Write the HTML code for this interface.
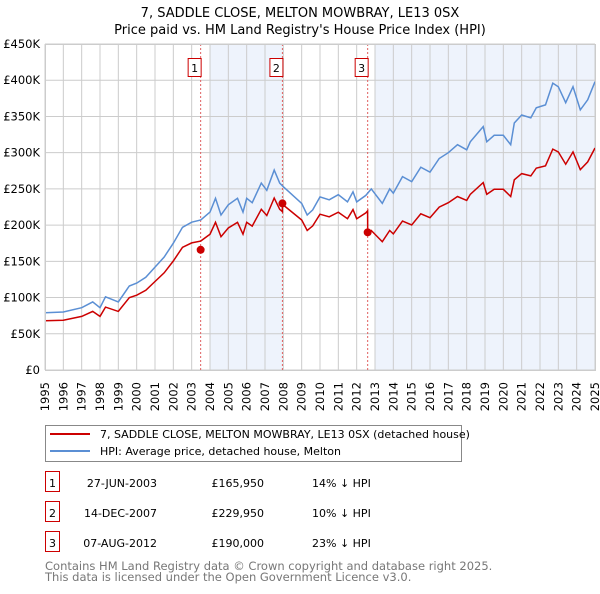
<!DOCTYPE html>
<html><head><meta charset="utf-8"><style>
body{margin:0;background:#fff;font-family:"DejaVu Sans","Liberation Sans",sans-serif;}
svg text{font-family:"DejaVu Sans","Liberation Sans",sans-serif;}
</style></head><body>
<svg id="c" width="600" height="590" xmlns="http://www.w3.org/2000/svg">
<text x="300" y="17" text-anchor="middle" font-size="13">7, SADDLE CLOSE, MELTON MOWBRAY, LE13 0SX</text>
<text x="300" y="34" text-anchor="middle" font-size="13">Price paid vs. HM Land Registry's House Price Index (HPI)</text>
<g id="plot"></g>
<g>
<rect x="45.5" y="425.5" width="416" height="36" fill="#fff" stroke="#888"/>
<line x1="50" y1="434" x2="90" y2="434" stroke="#cc0000" stroke-width="2"/>
<text x="100" y="438" font-size="11">7, SADDLE CLOSE, MELTON MOWBRAY, LE13 0SX (detached house)</text>
<line x1="50" y1="451" x2="90" y2="451" stroke="#5b8fd4" stroke-width="2"/>
<text x="100" y="455" font-size="11">HPI: Average price, detached house, Melton</text>
</g>
<g id="table" font-size="11"></g>
<text x="45" y="570" font-size="11.5" fill="#777">Contains HM Land Registry data © Crown copyright and database right 2025.</text>
<text x="45" y="581" font-size="11.5" fill="#777">This data is licensed under the Open Government Licence v3.0.</text>
</svg>
<script>
const hpiDates=[1995.0,1996.0,1997.0,1997.6,1998.0,1998.3,1999.0,1999.6,2000.0,2000.5,2001.0,2001.5,2002.0,2002.5,2003.0,2003.5,2004.0,2004.3,2004.6,2005.0,2005.5,2005.8,2006.0,2006.3,2006.8,2007.1,2007.5,2007.8,2008.0,2009.0,2009.3,2009.6,2010.0,2010.5,2011.0,2011.5,2011.8,2012.0,2012.5,2012.8,2013.4,2013.8,2014.0,2014.5,2015.0,2015.5,2016.0,2016.5,2017.0,2017.5,2018.0,2018.2,2018.9,2019.1,2019.5,2020.0,2020.4,2020.6,2021.0,2021.5,2021.8,2022.3,2022.7,2023.0,2023.4,2023.8,2024.2,2024.6,2025.0];
const hpiValues=[79,80,86,94,86,101,94,116,120,128,142,156,175,197,204,207,218,237,214,228,237,218,237,231,258,248,276,258,253,230,214,221,239,235,242,232,246,232,241,250,230,250,244,267,260,280,273,292,300,311,304,315,336,315,324,324,311,341,352,348,362,366,396,391,369,391,359,373,398];
const saleDates=[2003.49,2007.95,2012.6];
const salePrices=[165.95,229.95,190.0];
const salePctBelow=[14,10,23];
const saleLabels=["1","2","3"];
const saleDateText=["27-JUN-2003","14-DEC-2007","07-AUG-2012"];
const salePriceText=["£165,950","£229,950","£190,000"];
const saleHpiText=["14% ↓ HPI","10% ↓ HPI","23% ↓ HPI"];
const yTicks=[0,50,100,150,200,250,300,350,400,450];
const xTicks=[1995,1996,1997,1998,1999,2000,2001,2002,2003,2004,2005,2006,2007,2008,2009,2010,2011,2012,2013,2014,2015,2016,2017,2018,2019,2020,2021,2022,2023,2024,2025];

const X0=45,X1=595,Y0=370,Y1=44;
const xs=d=>X0+(d-1995)/30*(X1-X0);
const ys=v=>Y0-v/450*(Y0-Y1);
const NS="http://www.w3.org/2000/svg";
const plot=document.getElementById('plot');
function mk(tag,attrs,parent){const e=document.createElementNS(NS,tag);for(const k in attrs)e.setAttribute(k,attrs[k]);(parent||plot).appendChild(e);return e;}
function hpiAt(d){for(let i=1;i<hpiDates.length;i++){if(d<=hpiDates[i]){const t=(d-hpiDates[i-1])/(hpiDates[i]-hpiDates[i-1]);return hpiValues[i-1]+t*(hpiValues[i]-hpiValues[i-1]);}}return hpiValues[hpiValues.length-1];}

let r=mk('rect',{x:xs(2004),y:Y1,width:xs(saleDates[1])-xs(2004),height:Y0-Y1,fill:'#eef3fc'});


r=mk('rect',{x:xs(2013),y:Y1,width:X1-xs(2013),height:Y0-Y1,fill:'#eef3fc'});



xTicks.forEach(t=>{
  const l=mk('line',{x1:xs(t),x2:xs(t),y1:Y1,y2:Y0,stroke:'#ccc','stroke-width':1});
  
  
  const tx=mk('text',{x:0,y:0,'font-size':11.5,'text-anchor':'end',transform:`translate(${xs(t)+4},382) rotate(-90)`});
  tx.textContent=t;
  
  
});
yTicks.forEach(t=>{
  const l=mk('line',{x1:X0,x2:X1,y1:ys(t),y2:ys(t),stroke:'#ccc','stroke-width':1});
  
  
  const tx=mk('text',{x:40,y:ys(t)+4,'font-size':11.5,'text-anchor':'end'});
  tx.textContent=t===0?'£0':'£'+t+'K';
  
  
});

saleDates.forEach((d,i)=>{
  const l=mk('line',{x1:xs(d),x2:xs(d),y1:Y1,y2:Y0,stroke:'#e06060','stroke-width':1,'stroke-dasharray':'2,2'});
  
  
});

let p=hpiDates.map((d,i)=>(i?'L':'M')+xs(d).toFixed(1)+','+ys(hpiValues[i]).toFixed(1)).join('');
let e=mk('path',{d:p,fill:'none',stroke:'#5b8fd4','stroke-width':1.5});



const ratios=salePctBelow.map(v=>1-v/100);
function ratioAt(d){let k=0;for(let i=0;i<saleDates.length;i++)if(d>=saleDates[i])k=i;return ratios[k];}
let pts=[];
const allD=hpiDates.concat(saleDates).sort((a,b)=>a-b);
allD.forEach(d=>{pts.push([d,hpiAt(d)*ratioAt(d)]);});
saleDates.forEach((d,i)=>{if(i>0)pts.push([d-0.001,hpiAt(d)*ratios[i-1]]);});
pts.sort((a,b)=>a[0]-b[0]);
p=pts.map((q,i)=>(i?'L':'M')+xs(q[0]).toFixed(1)+','+ys(q[1]).toFixed(1)).join('');
e=mk('path',{d:p,fill:'none',stroke:'#cc0000','stroke-width':1.5});



saleDates.forEach((d,i)=>{
  const c=mk('circle',{cx:xs(d),cy:ys(salePrices[i]),r:4,fill:'#cc0000'});
  
  
  const bx=mk('rect',{x:xs(d)-12.5,y:58.5,width:13,height:18,fill:'#fff',stroke:'#cc0000'});
  
  
  const t=mk('text',{x:xs(d)-6,y:72,'font-size':11,'text-anchor':'middle'});
  t.textContent=saleLabels[i];
  
  
});
mk('rect',{x:X0+0.5,y:Y1+0.5,width:X1-X0,height:Y0-Y1,fill:'none',stroke:'#ccc'});

const tb=document.getElementById('table');
saleDates.forEach((d,i)=>{
  const y=483+i*30;
  const b=mk('rect',{x:45.5,y:y-11.5,width:14,height:20,fill:'#fff',stroke:'#cc0000'},tb);
  
  
  const t0=mk('text',{x:52.5,y:y+4,'text-anchor':'middle'},tb);t0.textContent=saleLabels[i];
  
  
  const t1=mk('text',{x:157,y:y+4,'text-anchor':'end'},tb);t1.textContent=saleDateText[i];
  
  
  const t2=mk('text',{x:264,y:y+4,'text-anchor':'end'},tb);t2.textContent=salePriceText[i];
  
  
  const t3=mk('text',{x:312,y:y+4},tb);t3.textContent=saleHpiText[i];
  
  
});
</script>
</body></html>
